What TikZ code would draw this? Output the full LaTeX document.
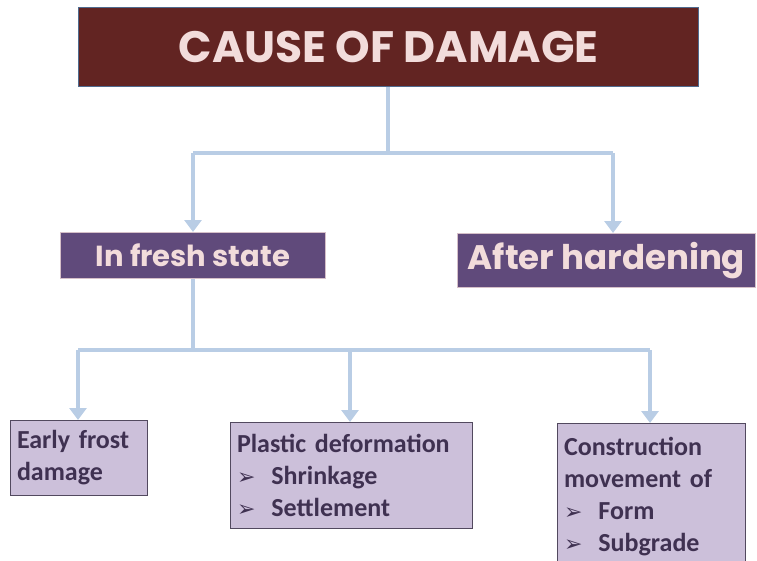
\documentclass[tikz,border=0pt]{standalone}
\usepackage{fontspec}
\setmainfont{Carlito}
\newfontfamily\headfont{Poppins}
\newfontfamily\symfont{DejaVu Sans}
\usetikzlibrary{arrows.meta}
\definecolor{maroon}{HTML}{622422}
\definecolor{titletext}{HTML}{F2DCDB}
\definecolor{purp}{HTML}{604A7B}
\definecolor{lav}{HTML}{CCC0DA}
\definecolor{darktext}{HTML}{3F3151}
\definecolor{conn}{HTML}{B9CDE5}
\definecolor{edge}{HTML}{4F6B8F}
\newcommand{\bul}{{\symfont\fontsize{22}{22}\selectfont ➢}\hspace{16pt}}
\newcommand{\leaffont}{\bfseries\fontsize{26}{32}\selectfont\spaceskip=4.5pt\relax}
\tikzset{
  titlebox/.style={draw=edge, line width=1pt, fill=maroon, text=titletext, anchor=north west, inner sep=0pt, font=\headfont\bfseries\fontsize{44}{48}\selectfont},
  midbox/.style={draw=titletext!80!purp, line width=0.8pt, fill=purp, text=titletext, anchor=north west, inner sep=0pt, font=\headfont\bfseries},
  leafbox/.style={draw=darktext!70!gray, line width=1pt, fill=lav, text=darktext, anchor=north west, inner sep=8pt, align=left, font=\leaffont},
  conline/.style={draw=conn, line width=4.5pt},
  conarrow/.style={conline, -{Triangle[width=17pt,length=12pt]}}
}
\begin{document}
\begin{tikzpicture}[x=1pt,y=-1pt]
\useasboundingbox (0,0) rectangle (757,560);
\node[titlebox, minimum width=620pt, minimum height=79pt] (title) at (78,7) {CAUSE OF DAMAGE};
\node[midbox, minimum width=265pt, minimum height=46pt, font=\headfont\bfseries\fontsize{29}{32}\selectfont] (fresh) at (60,232) {In fresh state};
\node[midbox, minimum width=298pt, minimum height=54pt, font=\headfont\bfseries\fontsize{34}{36}\selectfont] (hard) at (457,233) {After hardening};
\node[leafbox, minimum width=137pt, minimum height=75pt, text width=124pt, inner xsep=6pt] (frost) at (10,420) {Early frost\\damage};
\node[leafbox, minimum width=242pt, minimum height=106pt, text width=229pt, inner xsep=6pt] (plastic) at (230,422) {Plastic deformation\\\bul Shrinkage\\\bul Settlement};
\node[leafbox, minimum width=188pt, minimum height=146pt, text width=175pt, inner xsep=6pt] (constr) at (557,423) {Construction\\movement of\\\bul Form\\\bul Subgrade};
\coordinate (j1) at (388,153);
\coordinate (j2) at (193,350);
\draw[conline] (title.south -| j1) -- (j1);
\draw[conline] (193,153) -- (613,153);
\draw[conarrow] (193,153) -- (fresh.north -| 193,0);
\draw[conarrow] (613,153) -- (hard.north -| 613,0);
\draw[conline] (fresh.south -| j2) -- (j2);
\draw[conline] (78,350) -- (650,350);
\draw[conarrow] (78,350) -- (frost.north -| 78,0);
\draw[conarrow] (350,350) -- (plastic.north -| 350,0);
\draw[conarrow] (650,350) -- (constr.north -| 650,0);
\end{tikzpicture}
\end{document}
